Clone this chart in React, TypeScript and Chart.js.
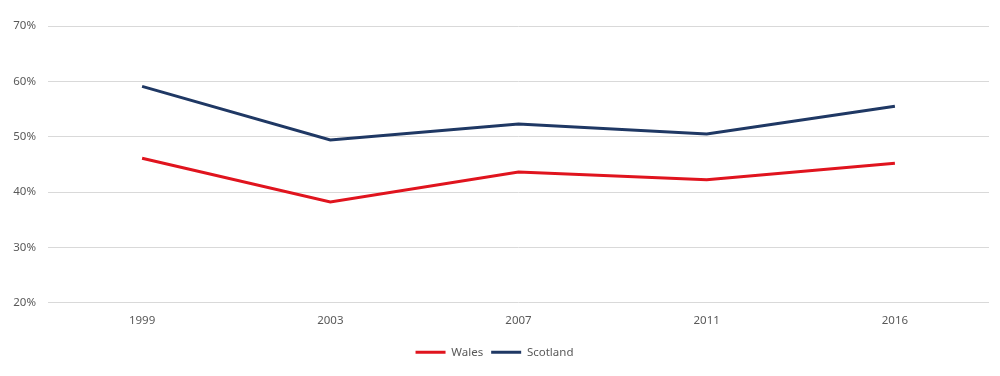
import React, { useEffect, useRef } from "react";
import { Chart, registerables } from "chart.js";

Chart.register(...registerables);

const categories = ["1999", "2003", "2007", "2011", "2016"];
const walesValues = [46.1, 38.2, 43.6, 42.2, 45.2];
const scotlandValues = [59.1, 49.4, 52.3, 50.5, 55.5];
const yTicks = [20, 30, 40, 50, 60, 70];

export default function App() {
  const ref = useRef<HTMLCanvasElement>(null);
  useEffect(() => {
    const font = { family: "'Noto Sans', 'Open Sans', sans-serif", size: 11.5 };
    const chart = new Chart(ref.current!, {
      type: "line",
      data: {
        labels: categories,
        datasets: [
          {
            label: "Wales",
            data: walesValues,
            borderColor: "#E0141E",
            backgroundColor: "#E0141E",
            borderWidth: 3,
            pointRadius: 0,
            tension: 0,
          },
          {
            label: "Scotland",
            data: scotlandValues,
            borderColor: "#1F3864",
            backgroundColor: "#1F3864",
            borderWidth: 3,
            pointRadius: 0,
            tension: 0,
          },
        ],
      },
      options: {
        animation: false,
        responsive: false,
        layout: { padding: { top: 26, right: 11, left: 0, bottom: 8 } },
        plugins: {
          tooltip: { enabled: false },
          legend: {
            position: "bottom",
            labels: {
              font,
              color: "#595959",
              boxWidth: 30,
              boxHeight: 3,
              padding: 8,
              generateLabels: (c: any) =>
                Chart.defaults.plugins.legend.labels
                  .generateLabels(c)
                  .map((l: any) => ({ ...l, lineWidth: 0 })),
            },
          },
        },
        scales: {
          x: {
            offset: true,
            grid: { display: false, drawTicks: false },
            border: { display: false },
            ticks: { font, color: "#595959", padding: 11 },
          },
          y: {
            min: 20,
            max: 70,
            afterBuildTicks: (axis: any) => {
              axis.ticks = yTicks.map((v) => ({ value: v }));
            },
            afterFit: (axis: any) => {
              axis.width = 48;
            },
            grid: { color: "#D9D9D9", lineWidth: 1, drawTicks: false },
            border: { display: false },
            ticks: {
              font,
              color: "#595959",
              padding: 12,
              callback: (v: any) => v + "%",
            },
          },
        },
      },
    });
    return () => chart.destroy();
  }, []);
  return (
    <div style={{ position: "absolute", left: 0, top: 0, width: 1000, height: 376, background: "#fff" }}>
      <canvas ref={ref} width={1000} height={376} />
    </div>
  );
}
